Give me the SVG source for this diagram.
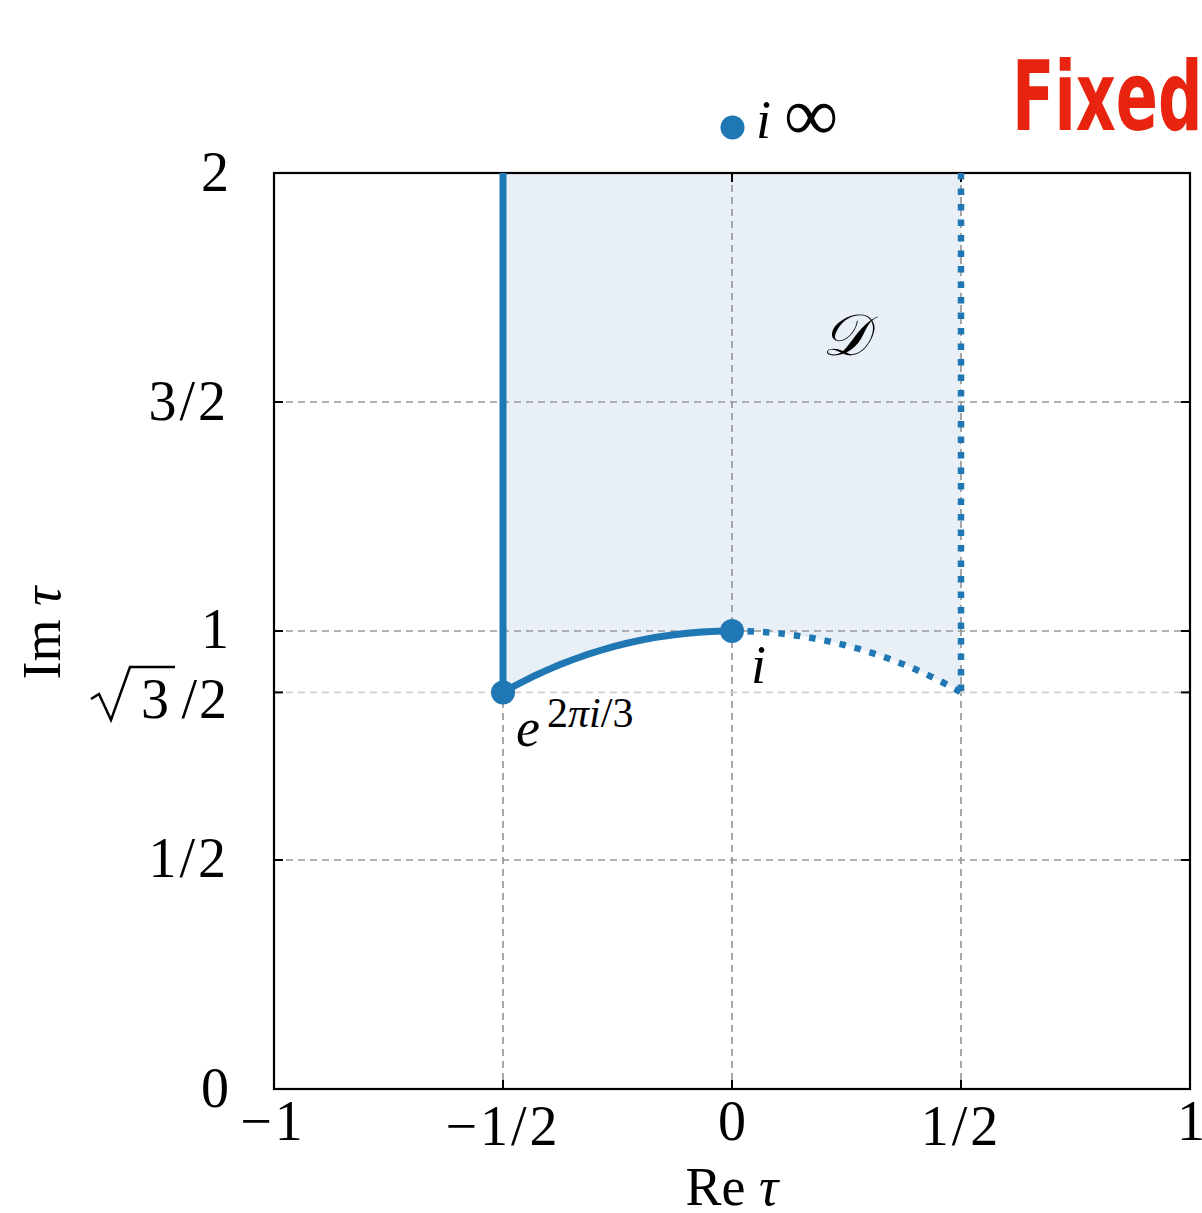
<svg xmlns="http://www.w3.org/2000/svg" width="1202" height="1213" viewBox="0 0 1202 1213">
<style>
.tick{font-family:"Liberation Serif","DejaVu Serif",serif;font-size:56px;fill:#000}
.lab{font-family:"Liberation Serif","DejaVu Serif",serif;font-size:54px;fill:#000}
.it{font-style:italic}
.grid{stroke:#999;stroke-width:1.7;stroke-dasharray:7 5;fill:none}
.gridl{stroke:#cfcfcf;stroke-width:1.7;stroke-dasharray:7 5;fill:none}
.blue{stroke:#1f77b4;stroke-width:7;fill:none}
.dot{stroke:#1f77b4;stroke-width:6.5;fill:none;stroke-dasharray:6.5 9}
.pt{fill:#1f77b4}
.tk{stroke:#000;stroke-width:2}
</style>
<rect width="1202" height="1213" fill="#fff"/>
<g id="region">
<path d="M503,173 L961,173 L961,692.4 A458,458 0 0 0 732,631 A458,458 0 0 0 503,692.4 Z" fill="#e8eff6"/>
</g>
<g id="grid">
<line class="grid" x1="503" y1="173" x2="503" y2="1089"/>
<line class="grid" x1="732" y1="173" x2="732" y2="1089"/>
<line class="grid" x1="961" y1="173" x2="961" y2="1089"/>
<line class="grid" x1="274" y1="402" x2="1190" y2="402"/>
<line class="grid" x1="274" y1="631" x2="1190" y2="631"/>
<line class="grid" x1="274" y1="860" x2="1190" y2="860"/>
<line class="gridl" x1="274" y1="692.4" x2="1190" y2="692.4"/>
</g>
<g id="axes">
<rect x="274" y="173" width="916" height="916" fill="none" stroke="#000" stroke-width="2.2"/>
<line class="tk" x1="503" y1="1089" x2="503" y2="1080"/>
<line class="tk" x1="732" y1="1089" x2="732" y2="1080"/>
<line class="tk" x1="961" y1="1089" x2="961" y2="1080"/>
<line class="tk" x1="503" y1="173" x2="503" y2="182"/>
<line class="tk" x1="732" y1="173" x2="732" y2="182"/>
<line class="tk" x1="961" y1="173" x2="961" y2="182"/>
<line class="tk" x1="274" y1="402" x2="283" y2="402"/>
<line class="tk" x1="274" y1="631" x2="283" y2="631"/>
<line class="tk" x1="274" y1="860" x2="283" y2="860"/>
<line class="tk" x1="274" y1="692.4" x2="283" y2="692.4"/>
<line class="tk" x1="1190" y1="402" x2="1181" y2="402"/>
<line class="tk" x1="1190" y1="631" x2="1181" y2="631"/>
<line class="tk" x1="1190" y1="860" x2="1181" y2="860"/>
<line class="tk" x1="1190" y1="692.4" x2="1181" y2="692.4"/>
</g>
<g id="connectors">
<line class="blue" x1="503" y1="173" x2="503" y2="692.4"/>
<path class="blue" d="M503,692.4 A458,458 0 0 1 732,631"/>
<path class="dot" d="M732,631 A458,458 0 0 1 961,692.4"/>
<line class="dot" x1="961" y1="173" x2="961" y2="692.4"/>
</g>
<g id="node-rho">
<circle class="pt" cx="503" cy="692.4" r="12"/>
<text class="lab it" x="516" y="746">e</text>
<text class="lab" x="547" y="727" style="font-size:42px"><tspan>2</tspan><tspan font-style="italic">πi</tspan><tspan>/3</tspan></text>
</g>
<g id="node-i">
<circle class="pt" cx="732" cy="631" r="12"/>
<text class="lab it" x="751" y="683">i</text>
</g>
<g id="node-inf">
<circle class="pt" cx="732.5" cy="127.5" r="12"/>
<text class="lab it" x="756" y="138">i</text>
<text class="lab" x="784" y="140" style="font-size:76px">∞</text>
</g>
<g id="label-D">
<text class="lab it" x="822" y="355" style="font-size:58px">𝒟</text>
</g>
<g id="yticks">
<text class="tick" x="229" y="191" text-anchor="end">2</text>
<text class="tick" x="229" y="420" text-anchor="end" letter-spacing="3">3/2</text>
<text class="tick" x="229" y="648" text-anchor="end">1</text>
<path d="M91,699 L99,694 L111,720 L130,667 L175,667" fill="none" stroke="#000" stroke-width="2.5"/>
<text class="tick" x="155" y="718" text-anchor="middle">3</text>
<text class="tick" x="229" y="718" text-anchor="end" letter-spacing="2">/2</text>
<text class="tick" x="229" y="877" text-anchor="end" letter-spacing="3">1/2</text>
<text class="tick" x="229" y="1107" text-anchor="end">0</text>
</g>
<g id="xticks">
<text class="tick" x="273" y="1140" text-anchor="middle" letter-spacing="3">−1</text>
<text class="tick" x="503" y="1145" text-anchor="middle" letter-spacing="3">−1/2</text>
<text class="tick" x="732" y="1140" text-anchor="middle">0</text>
<text class="tick" x="961" y="1145" text-anchor="middle" letter-spacing="3">1/2</text>
<text class="tick" x="1191" y="1140" text-anchor="middle">1</text>
</g>
<g id="axis-labels">
<text class="lab" x="732" y="1205" text-anchor="middle">Re <tspan font-style="italic">τ</tspan></text>
<text class="lab" transform="translate(60,633) rotate(-90)" text-anchor="middle">Im <tspan font-style="italic">τ</tspan></text>
</g>
<g id="title">
<text transform="translate(1012,130) scale(0.72,1)" font-family="'DejaVu Sans Condensed','DejaVu Sans',sans-serif" font-weight="bold" font-size="96" fill="#e8230f">Fixed</text>
</g>
</svg>
